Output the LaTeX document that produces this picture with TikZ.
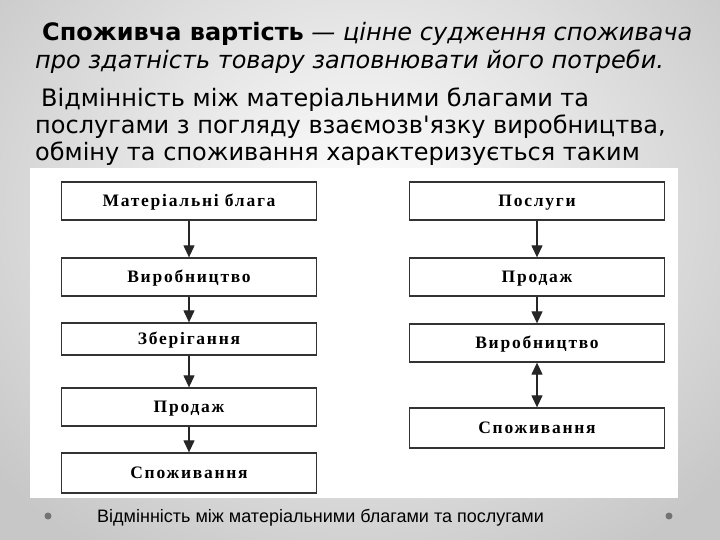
\documentclass[tikz,border=0pt]{standalone}
\usepackage{fontspec}
\setmainfont{DejaVu Sans}[Ligatures=TeXOff]
\newfontfamily\boxfont{Liberation Serif}[LetterSpace=10]
\newfontfamily\capfont{Liberation Sans}
\usetikzlibrary{arrows.meta}
\begin{document}
\begin{tikzpicture}[x=1pt,y=-1pt]
      % Define styles for nodes
      \tikzstyle{stage} = [draw=black!80, rectangle, line width=1.3pt,
      minimum width=255pt, minimum height=38pt, inner sep=0pt,
      text height=11.5pt, text depth=0pt,
      font=\boxfont\bfseries\fontsize{17.5}{17.5}\selectfont]
      \tikzstyle{line} = [anchor=base west, inner sep=0pt,
      font=\fontsize{24}{24}\selectfont]
      \tikzstyle{flow} = [line width=1.2pt, black!85,
      -{Triangle[width=11pt,length=12pt]}]

      % Background of the slide
      \useasboundingbox (0,0) rectangle (720,540);
      \shade[inner color=white, outer color=black!22] (-120,-200) rectangle (840,620);
      \fill[white] (30,168) rectangle (678,498);

      % Text at top
      \node[line] (t1) at (42,41) {\textbf{Споживча вартість} \textit{— цінне судження споживача}};
      \node[line] (t2) at (35,69) {\textit{про здатність товару заповнювати його потреби.}};
      \node[line] (t3) at (41,107) {Відмінність між матеріальними благами та};
      \node[line] (t4) at (35,134) {послугами з погляду взаємозв'язку виробництва,};
      \node[line] (t5) at (35,161) {обміну та споживання характеризується таким};

      % Material goods
      \node[stage] (mat) at (189,201) {Матеріальні блага};
      \node[stage] (vyr1) at (189,277) {Виробництво};
      \node[stage, minimum height=32pt] (zber) at (189,339) {Зберігання};
      \node[stage] (prod1) at (189,407) {Продаж};
      \node[stage, minimum height=40pt] (spozh1) at (189,473) {Споживання};

      % Services
      \node[stage] (posl) at (537,201) {Послуги};
      \node[stage] (prod2) at (537,277) {Продаж};
      \node[stage] (vyr2) at (537,343) {Виробництво};
      \node[stage, minimum height=40pt] (spozh2) at (537,428) {Споживання};

      % Connections
      \draw[flow] (mat) -- (vyr1);
      \draw[flow] (vyr1) -- (zber);
      \draw[flow] (zber) -- (prod1);
      \draw[flow] (prod1) -- (spozh1);
      \draw[flow] (posl) -- (prod2);
      \draw[flow] (prod2) -- (vyr2);
      \draw[flow, {Triangle[width=11pt,length=12pt]}-{Triangle[width=11pt,length=12pt]}] (vyr2) -- (spozh2);

      % Caption at bottom
      \fill[black!55] (48,516) circle (3.5);
      \fill[black!55] (669,516) circle (3.5);
      \node[anchor=base west, inner sep=0pt, font=\capfont\fontsize{18}{18}\selectfont] (cap) at (97,522) {Відмінність між матеріальними благами та послугами};
    \end{tikzpicture}
\end{document}
